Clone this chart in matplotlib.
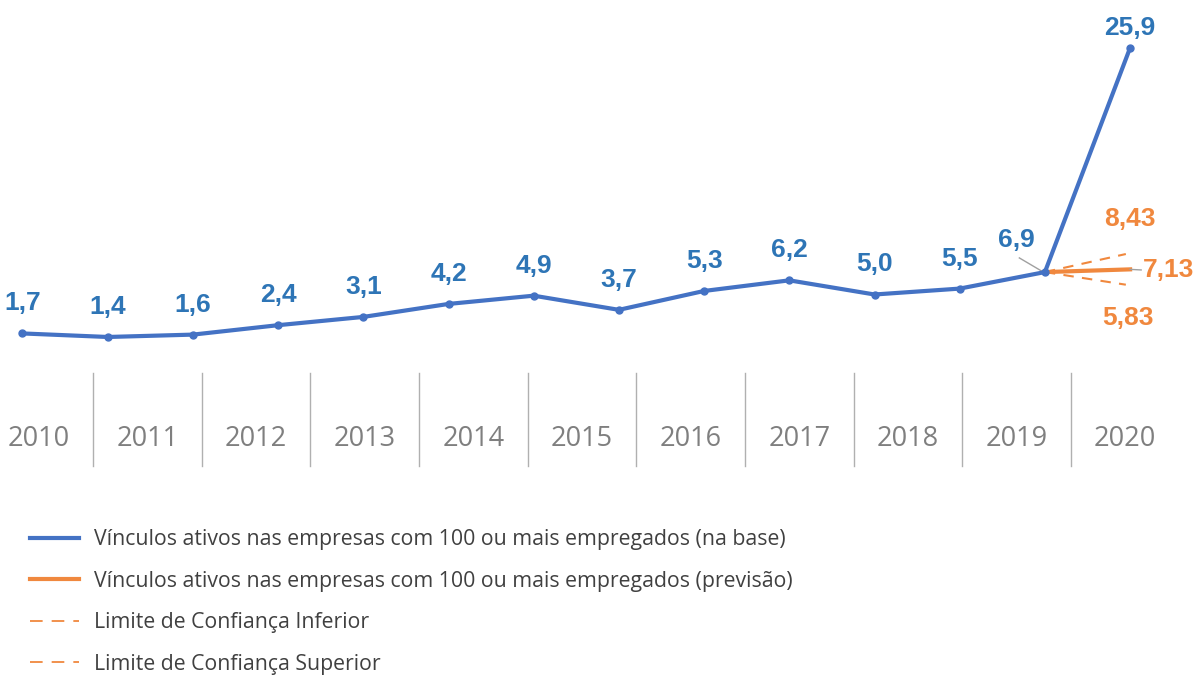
import matplotlib.pyplot as plt
from matplotlib.lines import Line2D
import numpy as np

# series (14 points on the line, 11 year cells below)
base_vals = [1.7, 1.4, 1.6, 2.4, 3.1, 4.2, 4.9, 3.7, 5.3, 6.2, 5.0, 5.5, 6.9, 25.9]
base_labels = ['1,7', '1,4', '1,6', '2,4', '3,1', '4,2', '4,9', '3,7', '5,3', '6,2', '5,0', '5,5', '6,9', '25,9']
fc_start = 6.9
fc_mid = 7.13
fc_low = 5.83
fc_high = 8.43
years = ['2010', '2011', '2012', '2013', '2014', '2015', '2016', '2017', '2018', '2019', '2020']
legend_labels = ['Vínculos ativos nas empresas com 100 ou mais empregados (na base)',
                 'Vínculos ativos nas empresas com 100 ou mais empregados (previsão)',
                 'Limite de Confiança Inferior',
                 'Limite de Confiança Superior']

BLUE = '#4472c4'
BLUE_TXT = '#2e75b6'
ORANGE = '#f0883e'
GREY = '#7f7f7f'
W, H = 1201, 675

plt.rcParams['font.family'] = ['Open Sans', 'DejaVu Sans']
fig = plt.figure(figsize=(W / 100, H / 100), dpi=100)

# axes spans whole figure, limits chosen so index i sits at px 22+85.2*i and value 0 at px 353.5
x0, dx = 22.5, 85.2
y0, dy = 353.5, 11.8
ax = fig.add_axes([0, 0, 1, 1])
ax.set_xlim(-x0 / dx, (W - x0) / dx)
ax.set_ylim((y0 - H) / dy, y0 / dy)
ax.axis('off')

xs = np.arange(len(base_vals))
ax.plot(xs, base_vals, color=BLUE, lw=3, marker='o', ms=5, solid_capstyle='round', zorder=3)

n = len(base_vals) - 1
fx = [n - 1, n]
ax.plot(fx, [fc_start, fc_mid], color=ORANGE, lw=3, zorder=2)
ax.plot([n - 1, n - 0.05], [fc_start, fc_high], color=ORANGE, lw=1.5, ls=(0, (5, 4)), zorder=2)
ax.plot([n - 1, n - 0.05], [fc_start, fc_low], color=ORANGE, lw=1.5, ls=(0, (5, 4)), zorder=2)

lab_font = dict(family='Liberation Sans', fontweight='bold', fontsize=19)
for i, (v, s) in enumerate(zip(base_vals, base_labels)):
    if i == n - 1:
        ax.text(i - 0.34, v + 2.7, s, color=BLUE_TXT, ha='center', va='center', **lab_font)
        ax.plot([i - 0.3, i - 0.03], [v + 1.2, v + 0.05], color='#a0a0a0', lw=1)
    elif i == n:
        ax.text(i, v + 1.65, s, color=BLUE_TXT, ha='center', va='center', **lab_font)
    else:
        ax.text(i, v + 2.55, s, color=BLUE_TXT, ha='center', va='center', **lab_font)

ax.text(n, fc_high + 3.0, '8,43', color=ORANGE, ha='center', va='center', **lab_font)
ax.text(n - 0.02, fc_low - 2.85, '5,83', color=ORANGE, ha='center', va='center', **lab_font)
ax.text(n + 0.45, fc_mid - 0.05, '7,13', color=ORANGE, ha='center', va='center', **lab_font)
ax.plot([n, n + 0.13], [fc_mid, fc_mid - 0.05], color='#a0a0a0', lw=1)

# year cells under the chart
cell_w = 108.6
for k, yr in enumerate(years):
    cx = 39 + cell_w * k
    fig.text(cx / W, 1 - 439 / H, yr, color=GREY, fontsize=19.5, ha='center', va='center')
    if k > 0:
        sx = (cx - cell_w / 2) / W
        fig.add_artist(Line2D([sx, sx], [1 - 373 / H, 1 - 466 / H], color='#b0b0b0', lw=1))

handles = [Line2D([], [], color=BLUE, lw=3),
           Line2D([], [], color=ORANGE, lw=3),
           Line2D([], [], color=ORANGE, lw=1.3, ls=(0, (7, 5))),
           Line2D([], [], color=ORANGE, lw=1.3, ls=(0, (7, 5)))]
leg = fig.legend(handles, legend_labels, loc='upper left', bbox_to_anchor=(30 / W, 1 - 529 / H),
                 frameon=False, fontsize=15.3, handlelength=2.3, handletextpad=0.72, labelspacing=0.97,
                 borderpad=0, borderaxespad=0, labelcolor='#404040')

fig.savefig('out.png', dpi=100)
